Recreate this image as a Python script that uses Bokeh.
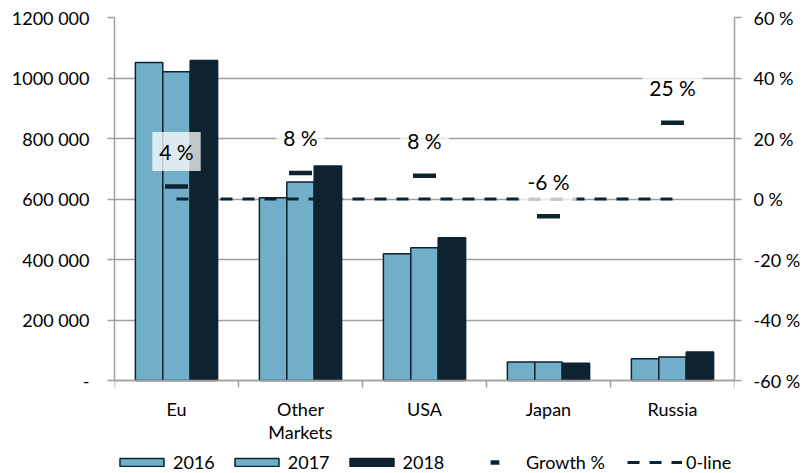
from bokeh.plotting import figure
from bokeh.models import Range1d, LinearAxis, FixedTicker, Legend, LegendItem
from bokeh.core.properties import value
from bokeh.embed import file_html
from bokeh.resources import INLINE

# ---------------- data ----------------
categories = ["Eu", "Other Markets", "USA", "Japan", "Russia"]
category_labels = ["Eu", "Other\nMarkets", "USA", "Japan", "Russia"]
years = ["2016", "2017", "2018"]
sales_2016 = [1051000, 604000, 419000, 61500, 71500]
sales_2017 = [1021000, 656000, 439000, 61500, 78000]
sales_2018 = [1058000, 709000, 472000, 57000, 94500]
growth_pct = [4.1, 8.6, 7.7, -5.7, 25.2]
growth_labels = ["4 %", "8 %", "8 %", "-6 %", "25 %"]
zero_line = [0, 0, 0, 0, 0]
left_ticks = [0, 200000, 400000, 600000, 800000, 1000000, 1200000]
left_tick_labels = ["-", "200 000", "400 000", "600 000", "800 000", "1000 000", "1200 000"]
right_ticks = [-60, -40, -20, 0, 20, 40, 60]
right_tick_labels = ["-60 %", "-40 %", "-20 %", "0 %", "20 %", "40 %", "60 %"]

# ---------------- style / layout ----------------
LIGHT = "#70AFC7"
DARK = "#0E2230"
GRAY = "#A0A0A0"
FONT = "Lato"
W, H = 806, 473
FRAME_TOP, AXIS_Y = 17, 380          # pixel rows of the top tick and of the category axis
ext = (H - AXIS_Y) / (AXIS_Y - FRAME_TOP)   # frame continues below the axis to hold the legend

n = len(categories)
centers = [i + 0.5 for i in range(n)]
boundaries = [float(i) for i in range(n + 1)]
bar_w = 0.221
offsets = [-bar_w, 0.0, bar_w]

left_start = left_ticks[0] - (left_ticks[-1] - left_ticks[0]) * ext
right_start = right_ticks[0] - (right_ticks[-1] - right_ticks[0]) * ext

p = figure(width=W, height=H, output_backend="svg", toolbar_location=None,
           x_range=Range1d(0, n), y_range=Range1d(left_start, left_ticks[-1]),
           min_border_left=114, min_border_right=72, min_border_top=FRAME_TOP, min_border_bottom=0)
p.outline_line_color = None
p.background_fill_color = "white"
p.border_fill_color = "white"
p.extra_y_ranges = {"pct": Range1d(right_start, right_ticks[-1])}

# x axis (drawn at value 0 of the left scale)
xa = p.xaxis[0]
xa.fixed_location = 0
xa.ticker = FixedTicker(ticks=centers, minor_ticks=boundaries)
xa.major_label_overrides = {c: lab for c, lab in zip(centers, category_labels)}
xa.major_tick_line_color = None
xa.major_tick_out = 7
xa.major_tick_in = 0
xa.minor_tick_out = 7
xa.minor_tick_in = 0
xa.minor_tick_line_color = GRAY
xa.minor_tick_line_width = 1.5
xa.axis_line_color = GRAY
xa.axis_line_width = 1.5
xa.major_label_standoff = 10
xa.major_label_text_font = FONT
xa.major_label_text_font_size = "18px"
xa.major_label_text_line_height = 1.05
xa.major_label_text_color = "black"

# left axis
ya = p.yaxis[0]
ya.bounds = (left_ticks[0], left_ticks[-1])
ya.ticker = FixedTicker(ticks=left_ticks)
ya.major_label_overrides = {t: lab for t, lab in zip(left_ticks, left_tick_labels)}
ya.major_tick_out = 7
ya.major_tick_in = 0
ya.major_tick_line_color = GRAY
ya.major_tick_line_width = 1.5
ya.minor_tick_line_color = None
ya.axis_line_color = GRAY
ya.axis_line_width = 1.5
ya.major_label_standoff = 18
ya.major_label_text_font = FONT
ya.major_label_text_font_size = "18px"
ya.major_label_text_color = "black"

p.xgrid.visible = False
p.ygrid.ticker = FixedTicker(ticks=left_ticks)
p.ygrid.grid_line_color = GRAY
p.ygrid.grid_line_width = 1.5

# right axis
ra = LinearAxis(y_range_name="pct", ticker=FixedTicker(ticks=right_ticks),
                bounds=(right_ticks[0], right_ticks[-1]))
ra.major_label_overrides = {t: lab for t, lab in zip(right_ticks, right_tick_labels)}
ra.major_tick_out = 7
ra.major_tick_in = 0
ra.major_tick_line_color = GRAY
ra.major_tick_line_width = 1.5
ra.minor_tick_line_color = None
ra.axis_line_color = GRAY
ra.axis_line_width = 1.5
ra.major_label_standoff = 12
ra.major_label_text_font = FONT
ra.major_label_text_font_size = "18px"
ra.major_label_text_color = "black"
p.add_layout(ra, "right")

# bars
bar_renderers = []
for series, off, fill in zip([sales_2016, sales_2017, sales_2018], offsets, [LIGHT, LIGHT, DARK]):
    r = p.vbar(x=[c + off for c in centers], top=series, bottom=0, width=bar_w,
               fill_color=fill, line_color=DARK, line_width=1.5)
    bar_renderers.append(r)

# zero line
zr = p.line(x=centers, y=zero_line, y_range_name="pct", line_color=DARK,
            line_width=3, line_dash="12 10")

# growth markers
gr = p.scatter(x=centers, y=growth_pct, y_range_name="pct", marker="dash", size=23,
               line_color=DARK, line_width=4.5)

# growth labels
p.text(x=centers, y=growth_pct, text=growth_labels, y_range_name="pct", y_offset=-35,
       text_align="center", text_baseline="middle", text_font=value(FONT),
       text_font_size="21px", text_color="black",
       background_fill_color="white", background_fill_alpha=0.75, padding=7)

common = dict(orientation="horizontal", padding=0, margin=0, border_line_color=None,
              background_fill_alpha=0, label_text_font=FONT, label_text_font_size="18px",
              label_text_color="black", label_standoff=4, glyph_width=55, label_height=20)

leg1 = Legend(items=[LegendItem(label=y, renderers=[r]) for y, r in zip(years, bar_renderers)],
              location=(0, 0), glyph_height=10, spacing=14, **common)
leg2 = Legend(items=[LegendItem(label="Growth %", renderers=[gr]),
                     LegendItem(label="0-line", renderers=[zr])],
              location=(353, 0), glyph_height=22, spacing=22, **common)
p.add_layout(leg1, "center")
p.add_layout(leg2, "center")

open("out.html", "w").write(file_html(p, INLINE))
